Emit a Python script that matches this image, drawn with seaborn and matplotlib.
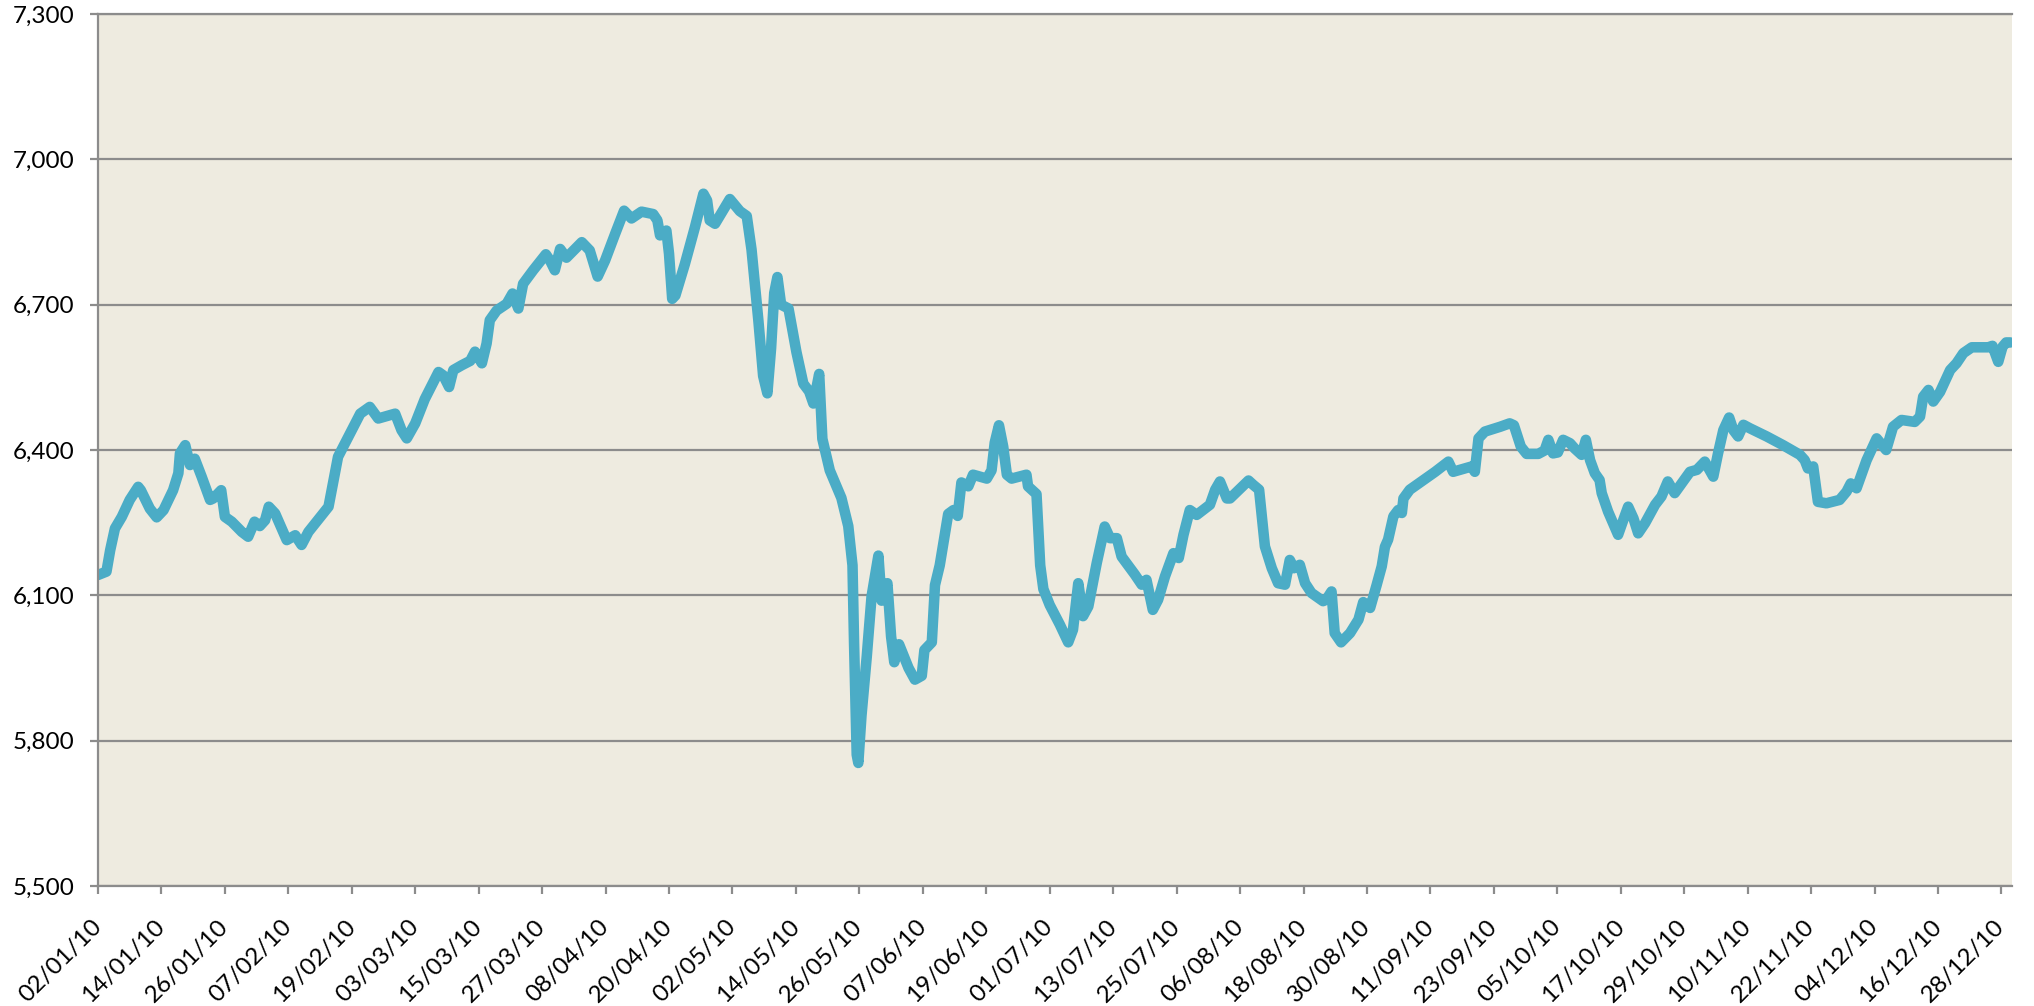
import pandas as pd
import matplotlib
matplotlib.use('Agg')
from matplotlib import pyplot as plt
import matplotlib.ticker as mticker
import seaborn as sns

# days counted from 02/01/10
start = pd.Timestamp('2010-01-02')
day_offset = [
    0, 1.6, 2.3, 3.2, 4.5, 6.0, 7.6, 8.1, 9.8, 11.1, 12.4, 14.2, 15.2, 15.5, 16.5, 17.4,
    18.3, 19.6, 21.2, 21.8, 23.3, 24.0, 25.3, 27.2, 28.4, 29.6, 30.6, 31.6, 32.3, 33.5,
    35.7, 37.3, 38.5, 39.8, 43.6, 45.4, 47.0, 49.6, 51.4, 53.0, 56.2, 57.4, 58.4, 60.0,
    61.8, 64.4, 65.3, 66.4, 67.2, 68.8, 70.4, 71.3, 72.6, 73.5, 74.1, 75.4, 77.3, 78.4,
    79.5, 80.4, 82.3, 84.7, 85.5, 86.4, 87.4, 88.6, 91.5, 93.0, 94.5, 95.9, 97.8, 99.5,
    100.9, 102.8, 105.0, 105.8, 106.3, 107.5, 108.0, 108.6, 109.2, 111.0, 112.9, 114.5,
    115.2, 115.7, 116.7, 119.5, 121.4, 122.7, 123.6, 124.9, 125.8, 126.6, 127.3, 127.9,
    128.5, 129.2, 130.6, 132.1, 133.4, 134.5, 135.3, 136.4, 137.0, 138.4, 140.6, 141.9,
    142.7, 143.0, 143.5, 143.8, 144.4, 145.4, 146.3, 147.6, 148.2, 149.3, 150.0, 150.6,
    151.5, 153.3, 154.5, 155.8, 156.3, 157.7, 158.3, 159.2, 160.8, 161.8, 162.6, 163.3,
    164.6, 165.5, 168.1, 169.0, 169.6, 170.4, 171.2, 171.9, 172.8, 175.6, 175.9, 177.5,
    178.2, 178.8, 180.0, 181.9, 183.5, 184.4, 185.4, 186.3, 187.3, 188.9, 190.4, 191.4,
    192.7, 193.6, 196.1, 197.4, 198.3, 199.5, 200.5, 201.8, 203.4, 204.4, 205.3, 206.5,
    207.8, 210.3, 211.3, 212.2, 213.5, 214.1, 217.6, 218.5, 219.6, 220.7, 222.0, 223.2,
    224.5, 225.4, 226.2, 227.3, 228.3, 229.5, 231.7, 232.3, 233.3, 233.9, 235.1, 236.8,
    238.4, 239.3, 240.6, 241.8, 242.8, 243.4, 244.0, 245.0, 245.9, 246.6, 246.9, 248.1,
    250.3, 252.9, 255.4, 256.3, 257.6, 259.8, 260.4, 261.1, 262.3, 265.2, 267.0, 267.8,
    269.1, 270.2, 272.4, 273.6, 274.3, 275.2, 276.1, 277.1, 278.4, 279.3, 280.6, 281.4,
    282.2, 283.1, 284.0, 284.4, 285.6, 287.5, 288.5, 289.4, 290.4, 291.3, 292.6, 294.5,
    295.7, 296.9, 298.2, 301.1, 302.4, 303.9, 305.5, 306.4, 307.4, 308.5, 309.3, 310.2,
    311.2, 312.4, 315.6, 318.7, 321.9, 322.8, 323.4, 324.4, 325.3, 326.9, 329.4, 330.7,
    331.5, 332.6, 334.5, 336.4, 338.2, 339.5, 341.1, 343.6, 344.6, 345.2, 346.2, 347.1,
    348.4, 350.3, 351.5, 352.8, 354.4, 357.5, 358.3, 359.4, 360.2, 360.9, 361.7,
]
index_value = [
    6142, 6149, 6193, 6238, 6262, 6297, 6324, 6317, 6279, 6261, 6276, 6317, 6352, 6393, 6410, 6369,
    6382, 6345, 6297, 6300, 6317, 6262, 6252, 6231, 6221, 6252, 6243, 6255, 6283, 6269,
    6214, 6224, 6204, 6231, 6283, 6386, 6420, 6475, 6489, 6465, 6475, 6441, 6424, 6455,
    6505, 6561, 6554, 6530, 6565, 6575, 6584, 6603, 6579, 6620, 6668, 6688, 6702, 6723,
    6692, 6743, 6771, 6804, 6791, 6771, 6815, 6797, 6829, 6812, 6758, 6791, 6846, 6894,
    6878, 6892, 6887, 6874, 6843, 6853, 6805, 6712, 6719, 6784, 6860, 6929,
    6915, 6874, 6867, 6918, 6893, 6883, 6814, 6667, 6553, 6517, 6610, 6724,
    6757, 6700, 6692, 6602, 6537, 6521, 6496, 6557, 6423, 6358, 6301, 6243,
    6162, 5999, 5771, 5754, 5852, 5974, 6097, 6182, 6089, 6125, 6015, 5962,
    5999, 5950, 5926, 5934, 5987, 6003, 6121, 6162, 6268, 6276, 6264, 6333,
    6325, 6349, 6341, 6358, 6415, 6451, 6407, 6349, 6341, 6349, 6325, 6309,
    6162, 6113, 6080, 6040, 6003, 6029, 6125, 6057, 6077, 6167, 6242, 6218,
    6218, 6180, 6143, 6122, 6132, 6070, 6091, 6139, 6187, 6177, 6225, 6276,
    6266, 6287, 6318, 6335, 6300, 6300, 6337, 6328, 6318, 6201, 6156, 6125,
    6122, 6173, 6156, 6163, 6125, 6105, 6088, 6091, 6108, 6022, 6003, 6022,
    6050, 6086, 6074, 6120, 6160, 6200, 6215, 6263, 6276, 6270, 6300, 6318,
    6335, 6355, 6376, 6355, 6359, 6366, 6355, 6424, 6438, 6448, 6455, 6451,
    6407, 6392, 6392, 6399, 6421, 6393, 6395, 6421, 6414, 6403, 6390, 6421,
    6379, 6352, 6338, 6311, 6273, 6225, 6256, 6283, 6259, 6228, 6249, 6287,
    6304, 6335, 6311, 6355, 6359, 6376, 6345, 6393, 6441, 6467, 6441, 6428,
    6452, 6445, 6428, 6410, 6390, 6379, 6362, 6366, 6293, 6290, 6297, 6314,
    6331, 6321, 6379, 6424, 6400, 6448, 6462, 6458, 6469, 6510, 6524, 6500,
    6520, 6565, 6579, 6600, 6612, 6612, 6615, 6582, 6613, 6622, 6622,
]
y_ticks = [5500, 5800, 6100, 6400, 6700, 7000, 7300]
x_tick_days = list(range(0, 361, 12))

df = pd.DataFrame({
    'Date': start + pd.to_timedelta(day_offset, unit='D'),
    'Value': index_value,
})

grey = '#8C8C8C'
sns.set_style('white')
plt.rcParams['font.family'] = ['Lato', 'DejaVu Sans']

fig = plt.figure(figsize=(20.34, 10.06), dpi=100)
ax = fig.add_axes([98 / 2034, 120 / 1006, 1914 / 2034, 872 / 1006])
ax.set_facecolor('#EEEBE0')

sns.lineplot(data=df, x='Date', y='Value', ax=ax, color='#4BACC6', linewidth=7.6,
             solid_capstyle='round', solid_joinstyle='round')

ax.set_ylim(5500, 7300)
ax.set_yticks(y_ticks)
ax.yaxis.set_major_formatter(mticker.StrMethodFormatter('{x:,.0f}'))

ticks = [start + pd.Timedelta(days=d) for d in x_tick_days]
ax.set_xticks(ticks)
ax.set_xticklabels([t.strftime('%d/%m/%y') for t in ticks], rotation=45,
                   ha='right', va='center', rotation_mode='anchor')
ax.set_xlim(start, start + pd.Timedelta(days=362))

ax.grid(axis='y', color=grey, linewidth=1.6)
ax.grid(axis='x', visible=False)
ax.set_axisbelow(True)
for side in ['left', 'bottom', 'top']:
    ax.spines[side].set_color(grey)
    ax.spines[side].set_linewidth(1.6)
ax.spines['right'].set_visible(False)

ax.tick_params(axis='both', length=6, width=1.6, color=grey, labelsize=17.5,
               labelcolor='black', direction='out')
ax.tick_params(axis='y', left=True, pad=11)
ax.tick_params(axis='x', bottom=True, pad=21)
ax.set_xlabel('')
ax.set_ylabel('')

fig.savefig('out.png', dpi=100, facecolor='white')
